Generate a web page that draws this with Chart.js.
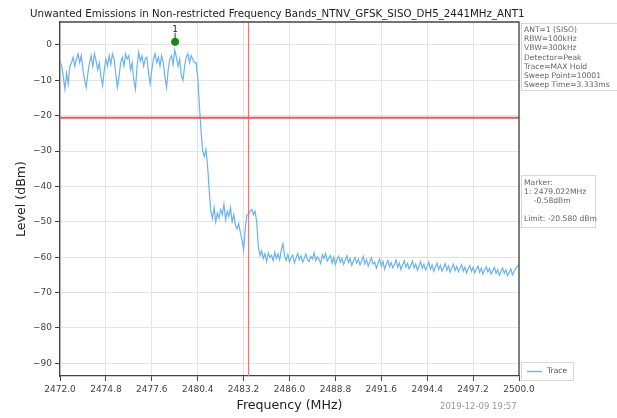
<!DOCTYPE html>
<html><head><meta charset="utf-8">
<script src="https://cdn.jsdelivr.net/npm/chart.js@4"></script>
<style>html,body{margin:0;padding:0;background:#fff}#wrap{width:617px;height:418px;position:relative}</style>
</head><body><div id="wrap"><canvas id="c" width="617" height="418"></canvas></div>
<script>
const TITLE = "Unwanted Emissions in Non-restricted Frequency Bands_NTNV_GFSK_SISO_DH5_2441MHz_ANT1";
const X_TITLE = "Frequency (MHz)";
const Y_TITLE = "Level (dBm)";
const DATE_TEXT = "2019-12-09 19:57";
const X_TICKS = [2472.0, 2474.8, 2477.6, 2480.4, 2483.2, 2486.0, 2488.8, 2491.6, 2494.4, 2497.2, 2500.0];
const Y_TICKS = [0, -10, -20, -30, -40, -50, -60, -70, -80, -90];
const X_RANGE = [2472.0, 2500.0];
const Y_RANGE = [-93.6, 6.5];
const INFO_LINES = ["ANT=1 (SISO)", "RBW=100kHz", "VBW=300kHz", "Detector=Peak", "Trace=MAX Hold", "Sweep Point=10001", "Sweep Time=3.333ms"];
const MARKER_LINES = ["Marker:", "1: 2479.022MHz", "    -0.58dBm", "", "Limit: -20.580 dBm"];
const LIMIT_DBM = -20.58;
const BAND_EDGE_MHZ = 2483.5;
const MARKER_FREQ = 2479.022;
const MARKER_LEVEL = 0.9;   // where the marker dot sits in the picture
const MARKER_LABEL = "1";
const LEGEND_LABEL = "Trace";

// trace sampled every 0.1 MHz starting at 2472.0
const FREQ_START = 2472.0;
const FREQ_STEP = 0.1;
// 2472.0 .. 2480.2 (in-band)
const LEVEL_INBAND = [
 -4.5,-6,-9,-12.5,-8,-11,-6,-5,-3.5,-6,
 -4,-2.5,-5,-3,-7,-10,-12,-8,-5,-3,
 -6,-2.5,-4.5,-7,-5,-9,-11.5,-7,-4,-6,
 -3,-5.5,-2.5,-4,-8,-12,-9,-5,-3.5,-6,
 -2.5,-4,-3,-7,-5,-10,-12.5,-6,-2,-4.5,
 -3,-6,-4,-3.5,-8,-11,-7,-4,-2.5,-5,
 -3.5,-6,-3,-5,-9,-12,-7,-4,-3,-5.5,
 -1.5,-3.5,-6,-4,-8.5,-10,-6,-3.5,-2.5,-5,
 -3,-4,-5
];
// 2480.3 .. 2484.1 (skirt)
const LEVEL_SKIRT = [
 -5,-9,-17,-24,-30,-31.5,-29.5,
 -34,-41,-47,-49,-46,-50,-47.5,-49,-46.5,-48,
 -45,-49.5,-47,-48.5,-46,-50,-48,-51,-52,-50.5,
 -53,-55,-58,-52,-48,-48,-47,-46.5,-48,-47,
 -50,-57
];
// 2484.2 .. 2500.0 (out of band floor)
const LEVEL_FLOOR = [
 -59.5,-58.2,-60.4,-59.0,-61.2,-58.8,-60.1,-59.4,-61.0,-58.6,
 -60.3,-59.1,-60.8,-57.9,-56.2,-59.7,-60.9,-59.2,-61.3,-60.0,
 -59.4,-61.6,-60.2,-58.9,-60.7,-59.6,-61.4,-60.3,-59.1,-60.8,
 -61.2,-59.8,-60.5,-58.7,-61.0,-59.9,-60.6,-61.8,-59.3,-60.4,
 -58.9,-61.1,-60.2,-59.5,-61.7,-60.0,-62.1,-60.6,-59.7,-61.4,
 -60.3,-62.0,-60.8,-59.6,-61.5,-60.4,-62.3,-61.0,-60.1,-61.7,
 -60.6,-62.2,-61.1,-59.8,-61.9,-60.7,-62.5,-61.3,-60.2,-62.0,
 -61.4,-63.1,-61.8,-60.5,-62.6,-61.2,-63.4,-62.0,-60.9,-62.7,
 -61.5,-63.0,-62.1,-60.8,-62.9,-61.6,-63.5,-62.2,-61.0,-62.8,
 -61.7,-63.3,-62.4,-61.1,-63.0,-61.9,-63.7,-62.5,-61.3,-63.1,
 -62.0,-63.6,-62.6,-61.4,-63.4,-62.2,-64.0,-62.8,-61.7,-63.5,
 -62.3,-63.9,-62.9,-61.8,-63.7,-62.5,-64.2,-63.0,-62.0,-63.8,
 -62.6,-64.1,-63.1,-62.1,-64.0,-62.8,-64.5,-63.3,-62.4,-64.0,
 -62.9,-64.4,-63.4,-62.5,-64.3,-63.1,-64.8,-63.6,-62.7,-64.2,
 -63.2,-64.7,-63.8,-62.9,-64.6,-63.5,-65.1,-64.0,-63.1,-64.6,
 -63.6,-65.2,-64.3,-63.3,-65.0,-64.1,-63.2,-62.6,-62.0
];

const LEVELS = LEVEL_INBAND.concat(LEVEL_SKIRT, LEVEL_FLOOR);
const tracePts = LEVELS.map((v, i) => ({x: +(FREQ_START + i * FREQ_STEP).toFixed(1), y: v}));

const FONT = "'DejaVu Sans', sans-serif";
const TRACE_COLOR = '#6cb2ee';

const overlay = {
  id: 'overlay',
  afterDraw(chart) {
    const ctx = chart.ctx, a = chart.chartArea, xs = chart.scales.x, ys = chart.scales.y;
    ctx.save();
    // top & right spines
    ctx.strokeStyle = '#444'; ctx.lineWidth = 1.3;
    ctx.beginPath();
    ctx.moveTo(a.left, a.top); ctx.lineTo(a.right, a.top); ctx.lineTo(a.right, a.bottom);
    ctx.stroke();

    // title
    ctx.fillStyle = '#222';
    ctx.textBaseline = 'middle';
    ctx.textAlign = 'left';
    ctx.font = '11px ' + FONT;
    const w = ctx.measureText(TITLE).width;
    const fs = 11 * 495 / w;
    ctx.font = fs.toFixed(2) + 'px ' + FONT;
    ctx.fillText(TITLE, 30, 14);

    // axis titles
    ctx.textAlign = 'center';
    ctx.font = '12.6px ' + FONT;
    ctx.fillStyle = '#222';
    ctx.fillText(X_TITLE, (a.left + a.right) / 2, 406);
    ctx.save();
    ctx.translate(22, (a.top + a.bottom) / 2);
    ctx.rotate(-Math.PI / 2);
    ctx.fillText(Y_TITLE, 0, 0);
    ctx.restore();

    // date
    ctx.font = '8.5px ' + FONT;
    ctx.fillStyle = '#999';
    ctx.textAlign = 'left';
    ctx.fillText(DATE_TEXT, 440, 407);

    // marker label
    const mx = xs.getPixelForValue(MARKER_FREQ), my = ys.getPixelForValue(MARKER_LEVEL);
    ctx.strokeStyle = '#333'; ctx.lineWidth = 1;
    ctx.beginPath(); ctx.moveTo(mx, my - 3); ctx.lineTo(mx, my - 9); ctx.stroke();
    ctx.fillStyle = '#222';
    ctx.textAlign = 'center';
    ctx.font = '9px ' + FONT;
    ctx.fillText(MARKER_LABEL, mx, my - 12);

    // info box
    const bx = a.right + 2;
    ctx.strokeStyle = '#d8d8d8'; ctx.lineWidth = 1;
    ctx.strokeRect(bx + 0.5, 23.5, 120, 67);
    ctx.font = '7.6px ' + FONT;
    ctx.fillStyle = '#666';
    ctx.textAlign = 'left';
    INFO_LINES.forEach((t, i) => ctx.fillText(t, bx + 3, 30 + i * 9.2));

    // marker box
    ctx.strokeRect(bx + 0.5, 175.5, 74, 52);
    MARKER_LINES.forEach((t, i) => ctx.fillText(t, bx + 3, 183 + i * 9));

    // legend box
    ctx.strokeRect(bx + 0.5, 362.5, 52, 18);
    ctx.strokeStyle = TRACE_COLOR; ctx.lineWidth = 1.4;
    ctx.beginPath(); ctx.moveTo(bx + 6, 371.5); ctx.lineTo(bx + 21, 371.5); ctx.stroke();
    ctx.fillStyle = '#555';
    ctx.fillText(LEGEND_LABEL, bx + 26, 371.5);
    ctx.restore();
  }
};

new Chart(document.getElementById('c'), {
  type: 'line',
  data: {
    datasets: [
      {data: tracePts, borderColor: TRACE_COLOR, borderWidth: 1.2, pointRadius: 0, tension: 0, order: 3},
      {data: [{x: X_RANGE[0], y: LIMIT_DBM}, {x: X_RANGE[1], y: LIMIT_DBM}], borderColor: '#ef5555', borderWidth: 1.8, pointRadius: 0, order: 2},
      {data: [{x: BAND_EDGE_MHZ, y: Y_RANGE[0]}, {x: BAND_EDGE_MHZ, y: Y_RANGE[1]}], borderColor: '#e47a7a', borderWidth: 1.1, pointRadius: 0, order: 2},
      {type: 'scatter', data: [{x: MARKER_FREQ, y: MARKER_LEVEL}], backgroundColor: '#178a17', borderColor: '#178a17', pointRadius: 3.6, order: 1}
    ]
  },
  options: {
    responsive: false, animation: false,
    layout: {padding: {top: 22, right: 98, left: 0, bottom: 0}},
    plugins: {legend: {display: false}, tooltip: {enabled: false}},
    scales: {
      x: {
        type: 'linear', min: X_RANGE[0], max: X_RANGE[1],
        afterBuildTicks: s => { s.ticks = X_TICKS.map(v => ({value: v})); },
        afterFit: s => { s.height = 42; },
        ticks: {callback: v => Number(v).toFixed(1), font: {family: FONT, size: 9}, color: '#444', maxRotation: 0, autoSkip: false, padding: 3},
        grid: {color: '#e4e4e4', tickColor: '#444', tickLength: 5, lineWidth: 1},
        border: {color: '#444', width: 1.3}
      },
      y: {
        min: Y_RANGE[0], max: Y_RANGE[1],
        afterBuildTicks: s => { s.ticks = Y_TICKS.map(v => ({value: v})); },
        afterFit: s => { s.width = 60; },
        ticks: {callback: v => (v < 0 ? '\u2212' : '') + Math.abs(v), font: {family: FONT, size: 9}, color: '#444', padding: 3},
        grid: {color: '#e4e4e4', tickColor: '#444', tickLength: 5, lineWidth: 1},
        border: {color: '#444', width: 1.3}
      }
    }
  },
  plugins: [overlay]
});
</script>
</body></html>
